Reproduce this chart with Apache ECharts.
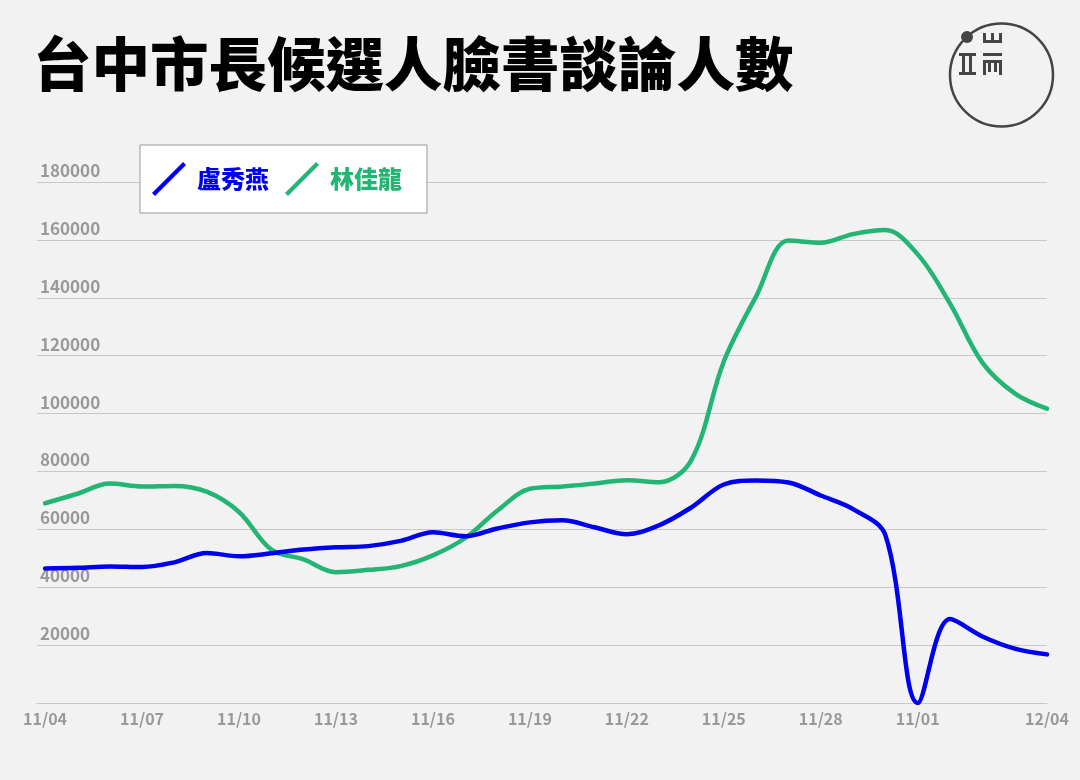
<!DOCTYPE html>
<html>
<head>
<meta charset="utf-8">
<script src="https://cdn.jsdelivr.net/npm/echarts@6/dist/echarts.min.js"></script>
<style>
html,body{margin:0;padding:0;background:#f2f2f2;}
#c{width:1080px;height:780px;}
</style>
</head>
<body>
<div id="c"></div>
<script>
const title = '台中市長候選人臉書談論人數';
const categories = ['11/04','11/05','11/06','11/07','11/08','11/09','11/10','11/11','11/12','11/13',
  '11/14','11/15','11/16','11/17','11/18','11/19','11/20','11/21','11/22','11/23','11/24','11/25',
  '11/26','11/27','11/28','11/29','11/30','11/01','12/01','12/02','12/03','12/04'];
const shownLabels = [0,3,6,9,12,15,18,21,24,27,31];
const seriesNames = ['盧秀燕','林佳龍'];
const luValues = [46500,46700,47200,47000,48600,51800,50700,51700,53000,53800,
  54200,56000,59000,57600,60300,62400,63100,60700,58300,61400,67600,75500,
  76900,76200,71700,67000,58000,0,29000,23000,18800,16800];
const linValues = [69000,72300,75800,74800,75000,73000,66000,53000,49600,45200,
  46000,47300,51000,57000,66500,74000,74800,75800,77000,76300,84000,118000,
  140500,159800,159000,162000,163400,155000,138000,117600,107000,101700];
const yTicks = {min:0, max:180000, interval:20000};
const colors = ['#0000f0','#22b573'];

const chart = echarts.init(document.getElementById('c'));
const iconPath = 'path://M0,31L31,0L34,3L3,34Z';
const fontFam = '"Noto Sans CJK TC","Noto Sans",sans-serif';

chart.setOption({
  backgroundColor:'#f2f2f2',
  animation:false,
  title:{
    text:title, left:28, top:30,
    textStyle:{fontFamily:fontFam, fontSize:58.5, fontWeight:900, color:'#000'}
  },
  legend:{
    left:140, top:145,
    orient:'horizontal',
    backgroundColor:'#ffffff',
    borderColor:'#9a9a9a', borderWidth:1,
    padding:[17,25,17,12],
    itemWidth:34, itemHeight:34, itemGap:16,
    selectedMode:false,
    icon:iconPath,
    data:[
      {name:seriesNames[0], textStyle:{color:colors[0]}},
      {name:seriesNames[1], textStyle:{color:colors[1]}}
    ],
    textStyle:{fontFamily:fontFam, fontSize:24, fontWeight:900, padding:[0,0,0,6]}
  },
  grid:{left:37, right:33, top:182, bottom:77, containLabel:false},
  xAxis:{
    type:'value', min:-0.25, max:categories.length-1,
    axisLine:{show:true, lineStyle:{color:'#c8c8c8', width:1}},
    axisTick:{show:false},
    axisLabel:{
      customValues:shownLabels,
      formatter:function(v){return categories[Math.round(v)];},
      color:'#999', fontFamily:fontFam, fontWeight:'bold', fontSize:16, margin:8
    },
    splitLine:{show:false}
  },
  yAxis:{
    type:'value', min:yTicks.min, max:yTicks.max, interval:yTicks.interval,
    axisLine:{show:false}, axisTick:{show:false},
    axisLabel:{
      inside:true, align:'left', verticalAlign:'bottom', margin:3,
      padding:[0,0,3,0],
      color:'#999', fontFamily:fontFam, fontWeight:'bold', fontSize:17,
      formatter:function(v){return v===0 ? '' : String(v);}
    },
    splitLine:{show:true, lineStyle:{color:'#c8c8c8', width:1}}
  },
  series:[
    {name:seriesNames[1], type:'line', data:linValues.map(function(v,i){return [i,v];}),
     smooth:0.35, symbol:'none',
     color:colors[1], itemStyle:{color:colors[1]},
     lineStyle:{color:colors[1], width:4.5, cap:'round'}, z:2},
    {name:seriesNames[0], type:'line', data:luValues.map(function(v,i){return [i,v];}),
     smooth:0.35, symbol:'none',
     color:colors[0], itemStyle:{color:colors[0]},
     lineStyle:{color:colors[0], width:4.5, cap:'round'}, z:3}
  ],
  graphic:[
    {type:'circle', shape:{cx:1001.5, cy:75, r:51.5}, style:{fill:'none', stroke:'#444', lineWidth:2.5}},
    {type:'circle', shape:{cx:967, cy:37, r:6}, style:{fill:'#444'}},
    {type:'rect', shape:{x:959, y:53, width:17, height:3}, style:{fill:'#444'}},
    {type:'rect', shape:{x:959, y:72, width:17, height:3}, style:{fill:'#444'}},
    {type:'rect', shape:{x:962, y:53, width:3, height:22}, style:{fill:'#444'}},
    {type:'rect', shape:{x:969, y:53, width:3, height:22}, style:{fill:'#444'}},
    {type:'rect', shape:{x:983, y:40, width:19, height:3}, style:{fill:'#444'}},
    {type:'rect', shape:{x:983, y:33, width:3, height:10}, style:{fill:'#444'}},
    {type:'rect', shape:{x:991, y:33, width:3, height:10}, style:{fill:'#444'}},
    {type:'rect', shape:{x:999, y:33, width:3, height:10}, style:{fill:'#444'}},
    {type:'rect', shape:{x:983, y:53, width:19, height:3}, style:{fill:'#444'}},
    {type:'rect', shape:{x:983, y:60, width:19, height:3}, style:{fill:'#444'}},
    {type:'rect', shape:{x:983, y:60, width:3, height:15}, style:{fill:'#444'}},
    {type:'rect', shape:{x:999, y:60, width:3, height:15}, style:{fill:'#444'}},
    {type:'rect', shape:{x:988, y:60, width:3, height:12}, style:{fill:'#444'}},
    {type:'rect', shape:{x:994, y:60, width:3, height:12}, style:{fill:'#444'}}
  ]
});
</script>
</body>
</html>
